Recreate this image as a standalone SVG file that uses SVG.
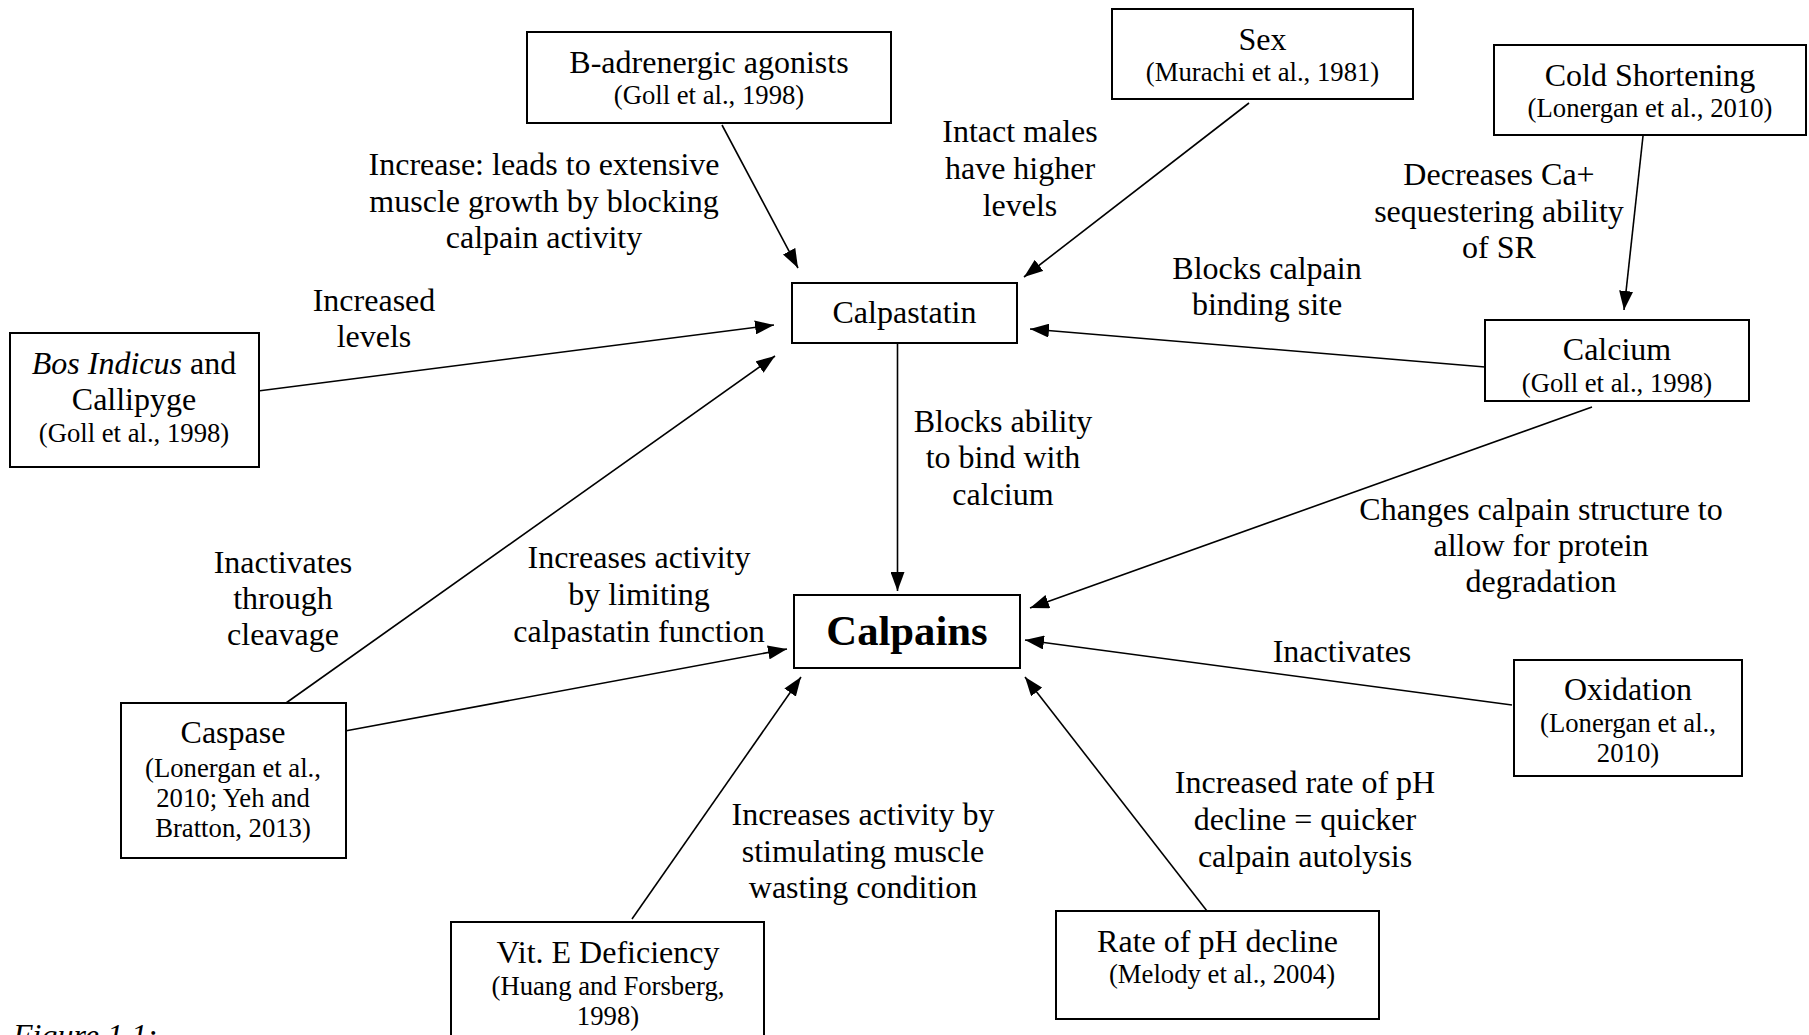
<svg xmlns="http://www.w3.org/2000/svg" width="1809" height="1035" viewBox="0 0 1809 1035">
<style>
text{font-family:"Liberation Serif","Times New Roman",serif;fill:#000;text-anchor:middle}
.t{font-size:32px}
.c{font-size:26.7px}
.b{font-size:42.7px;font-weight:bold}
.box{fill:#fff;stroke:#000;stroke-width:2}
.ln{stroke:#000;stroke-width:1.6;fill:none;marker-end:url(#ah)}
.cap{font-size:32px;font-style:italic;text-anchor:start}
</style>
<defs>
<marker id="ah" markerUnits="userSpaceOnUse" markerWidth="20" markerHeight="14" refX="19" refY="7" orient="auto">
<path d="M0,0 L19,7 L0,14 z" fill="#000"/>
</marker>
</defs>
<rect width="1809" height="1035" fill="#fff"/>
<g id="connectors">
<line class="ln" x1="722" y1="125" x2="798" y2="268"/>
<line class="ln" x1="1249" y1="103" x2="1024" y2="277"/>
<line class="ln" x1="1643" y1="136" x2="1624" y2="310"/>
<line class="ln" x1="1485" y1="367" x2="1030" y2="329"/>
<line class="ln" x1="258" y1="391" x2="774" y2="325"/>
<line class="ln" x1="286" y1="703" x2="775" y2="356"/>
<line class="ln" x1="345" y1="731" x2="787" y2="649"/>
<line class="ln" x1="897.5" y1="343" x2="897.5" y2="591"/>
<line class="ln" x1="632" y1="919" x2="801" y2="677"/>
<line class="ln" x1="1207" y1="911" x2="1025" y2="677"/>
<line class="ln" x1="1512" y1="705" x2="1025" y2="640"/>
<line class="ln" x1="1592" y1="407" x2="1030" y2="608"/>
</g>
<g id="labels">
<text class="t" x="544" y="175">Increase: leads to extensive</text>
<text class="t" x="544" y="212">muscle growth by blocking</text>
<text class="t" x="544" y="248">calpain activity</text>
<text class="t" x="374" y="311">Increased</text>
<text class="t" x="374" y="347">levels</text>
<text class="t" x="1020" y="142">Intact males</text>
<text class="t" x="1020" y="179">have higher</text>
<text class="t" x="1020" y="216">levels</text>
<text class="t" x="1499" y="185">Decreases Ca+</text>
<text class="t" x="1499" y="222">sequestering ability</text>
<text class="t" x="1499" y="258">of SR</text>
<text class="t" x="1267" y="279">Blocks calpain</text>
<text class="t" x="1267" y="315">binding site</text>
<text class="t" x="1003" y="432">Blocks ability</text>
<text class="t" x="1003" y="468">to bind with</text>
<text class="t" x="1003" y="505">calcium</text>
<text class="t" x="1541" y="520">Changes calpain structure to</text>
<text class="t" x="1541" y="556">allow for protein</text>
<text class="t" x="1541" y="592">degradation</text>
<text class="t" x="283" y="573">Inactivates</text>
<text class="t" x="283" y="609">through</text>
<text class="t" x="283" y="645">cleavage</text>
<text class="t" x="639" y="568">Increases activity</text>
<text class="t" x="639" y="605">by limiting</text>
<text class="t" x="639" y="642">calpastatin function</text>
<text class="t" x="1342" y="662">Inactivates</text>
<text class="t" x="863" y="825">Increases activity by</text>
<text class="t" x="863" y="862">stimulating muscle</text>
<text class="t" x="863" y="898">wasting condition</text>
<text class="t" x="1305" y="793">Increased rate of pH</text>
<text class="t" x="1305" y="830">decline = quicker</text>
<text class="t" x="1305" y="867">calpain autolysis</text>
</g>
<g id="node-badrenergic">
<rect class="box" x="527" y="32" width="364" height="91"/>
<text class="t" x="709" y="73">B-adrenergic agonists</text>
<text class="c" x="709" y="104">(Goll et al., 1998)</text>
</g>
<g id="node-sex">
<rect class="box" x="1112" y="9" width="301" height="90"/>
<text class="t" x="1262.5" y="50">Sex</text>
<text class="c" x="1262.5" y="81">(Murachi et al., 1981)</text>
</g>
<g id="node-cold">
<rect class="box" x="1494" y="45" width="312" height="90"/>
<text class="t" x="1650" y="86">Cold Shortening</text>
<text class="c" x="1650" y="117">(Lonergan et al., 2010)</text>
</g>
<g id="node-calpastatin">
<rect class="box" x="792" y="283" width="225" height="60"/>
<text class="t" x="904.5" y="323">Calpastatin</text>
</g>
<g id="node-calcium">
<rect class="box" x="1485" y="320" width="264" height="81"/>
<text class="t" x="1617" y="360">Calcium</text>
<text class="c" x="1617" y="392">(Goll et al., 1998)</text>
</g>
<g id="node-bos">
<rect class="box" x="10" y="333" width="249" height="134"/>
<text class="t" x="134" y="374"><tspan font-style="italic">Bos Indicus</tspan> and</text>
<text class="t" x="134" y="410">Callipyge</text>
<text class="c" x="134" y="442">(Goll et al., 1998)</text>
</g>
<g id="node-calpains">
<rect class="box" x="794" y="595" width="226" height="73"/>
<text class="b" x="907" y="645">Calpains</text>
</g>
<g id="node-caspase">
<rect class="box" x="121" y="703" width="225" height="155"/>
<text class="t" x="233" y="743">Caspase</text>
<text class="c" x="233" y="777">(Lonergan et al.,</text>
<text class="c" x="233" y="807">2010; Yeh and</text>
<text class="c" x="233" y="837">Bratton, 2013)</text>
</g>
<g id="node-oxidation">
<rect class="box" x="1514" y="660" width="228" height="116"/>
<text class="t" x="1628" y="700">Oxidation</text>
<text class="c" x="1628" y="732">(Lonergan et al.,</text>
<text class="c" x="1628" y="762">2010)</text>
</g>
<g id="node-vite">
<rect class="box" x="451" y="922" width="313" height="130"/>
<text class="t" x="608" y="963">Vit. E Deficiency</text>
<text class="c" x="608" y="995">(Huang and Forsberg,</text>
<text class="c" x="608" y="1025">1998)</text>
</g>
<g id="node-ph">
<rect class="box" x="1056" y="911" width="323" height="108"/>
<text class="t" x="1217.5" y="952">Rate of pH decline</text>
<text class="c" x="1222" y="983">(Melody et al., 2004)</text>
</g>
<text class="cap" x="13" y="1046">Figure 1.1:</text>
</svg>
